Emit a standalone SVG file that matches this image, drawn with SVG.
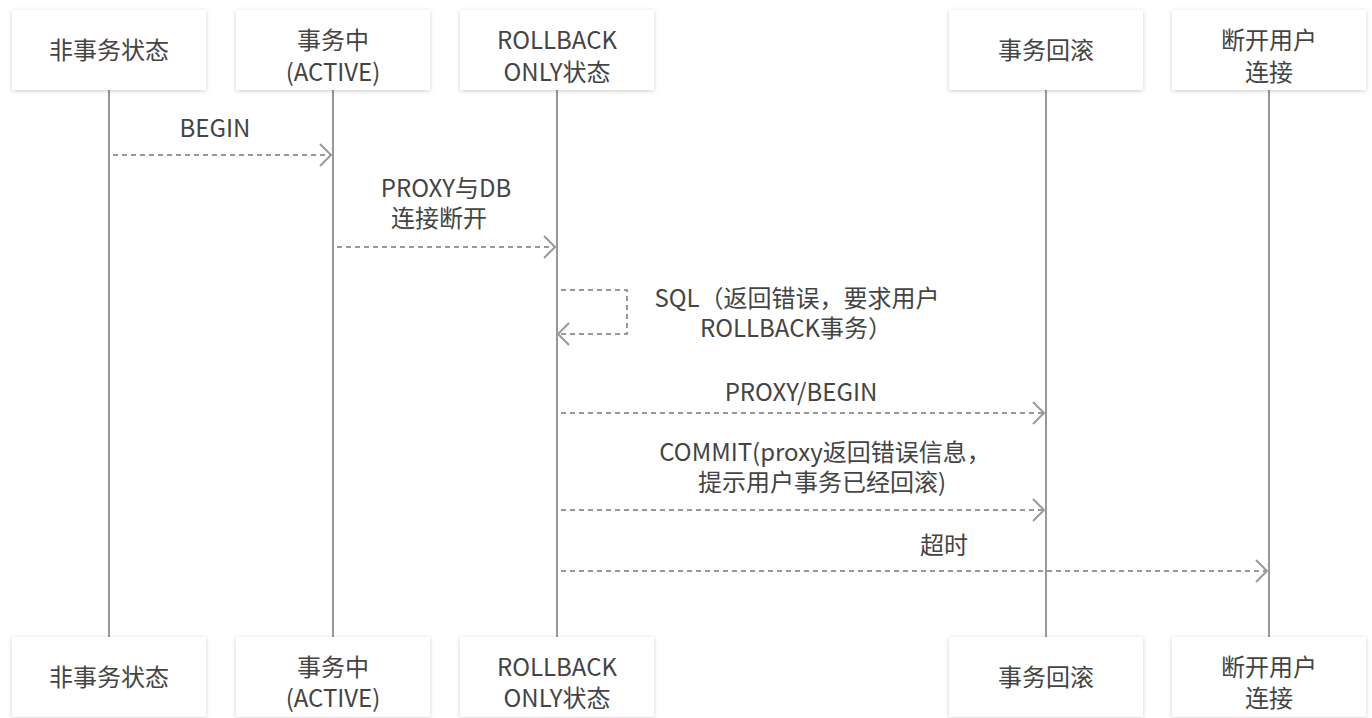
<svg xmlns="http://www.w3.org/2000/svg" width="1372" height="718" viewBox="0 0 1372 718">
<style>
.box{fill:#fff;filter:url(#sh)}
.t{font-family:"Noto Sans CJK SC","Noto Sans",sans-serif;font-size:24px;fill:#444;text-anchor:middle}
.life{stroke:#999;stroke-width:2;fill:none}
.msg{stroke:#999;stroke-width:2;fill:none;stroke-dasharray:5 4}
.head{stroke:#999;stroke-width:2;fill:none}
</style>
<defs>
<filter id="sh" x="-10%" y="-20%" width="120%" height="140%">
<feDropShadow dx="0" dy="1" stdDeviation="2" flood-color="#000" flood-opacity="0.2"/>
</filter>
</defs>
<rect width="1372" height="718" fill="#fff"/>
<g id="lifelines">
<line class="life" x1="109" y1="90" x2="109" y2="637"/>
<line class="life" x1="333" y1="90" x2="333" y2="637"/>
<line class="life" x1="557" y1="90" x2="557" y2="637"/>
<line class="life" x1="1046" y1="90" x2="1046" y2="637"/>
<line class="life" x1="1269" y1="90" x2="1269" y2="637"/>
</g>
<g id="n1"><rect class="box" x="12" y="10" width="194" height="80"/><text class="t" x="109" y="59">非事务状态</text></g>
<g id="n2"><rect class="box" x="236" y="10" width="194" height="80"/><text class="t"><tspan x="333" y="49">事务中</tspan><tspan x="333" y="81">(ACTIVE)</tspan></text></g>
<g id="n3"><rect class="box" x="460" y="10" width="194" height="80"/><text class="t"><tspan x="557" y="49">ROLLBACK</tspan><tspan x="557" y="81">ONLY状态</tspan></text></g>
<g id="n4"><rect class="box" x="949" y="10" width="194" height="80"/><text class="t" x="1046" y="59">事务回滚</text></g>
<g id="n5"><rect class="box" x="1172" y="10" width="194" height="80"/><text class="t"><tspan x="1269" y="49">断开用户</tspan><tspan x="1269" y="81">连接</tspan></text></g>
<g id="n1b"><rect class="box" x="12" y="637" width="194" height="80"/><text class="t" x="109" y="686">非事务状态</text></g>
<g id="n2b"><rect class="box" x="236" y="637" width="194" height="80"/><text class="t"><tspan x="333" y="676">事务中</tspan><tspan x="333" y="707">(ACTIVE)</tspan></text></g>
<g id="n3b"><rect class="box" x="460" y="637" width="194" height="80"/><text class="t"><tspan x="557" y="676">ROLLBACK</tspan><tspan x="557" y="707">ONLY状态</tspan></text></g>
<g id="n4b"><rect class="box" x="949" y="637" width="194" height="80"/><text class="t" x="1046" y="686">事务回滚</text></g>
<g id="n5b"><rect class="box" x="1172" y="637" width="194" height="80"/><text class="t"><tspan x="1269" y="676">断开用户</tspan><tspan x="1269" y="707">连接</tspan></text></g>
<g id="connectors">
<line class="msg" x1="113" y1="155" x2="330" y2="155"/>
<polyline class="head" points="320,144 331,155 320,166"/>
<text class="t" x="215" y="137">BEGIN</text>
<line class="msg" x1="337" y1="247" x2="554" y2="247"/>
<polyline class="head" points="544,236 555,247 544,258"/>
<text class="t"><tspan x="446" y="197">PROXY与DB</tspan><tspan x="439" y="227">连接断开</tspan></text>
<polyline class="msg" points="561,290 627,290 627,334 560,334"/>
<polyline class="head" points="569,323 558,334 569,345"/>
<text class="t"><tspan x="797" y="307">SQL（返回错误，要求用户</tspan><tspan x="796" y="337">ROLLBACK事务）</tspan></text>
<line class="msg" x1="561" y1="413" x2="1043" y2="413"/>
<polyline class="head" points="1033,402 1044,413 1033,424"/>
<text class="t" x="801" y="401">PROXY/BEGIN</text>
<line class="msg" x1="561" y1="510" x2="1043" y2="510"/>
<polyline class="head" points="1033,499 1044,510 1033,521"/>
<text class="t"><tspan x="825" y="461">COMMIT(proxy返回错误信息，</tspan><tspan x="822" y="491">提示用户事务已经回滚)</tspan></text>
<line class="msg" x1="561" y1="571" x2="1266" y2="571"/>
<polyline class="head" points="1256,560 1267,571 1256,582"/>
<text class="t" x="944" y="554">超时</text>
</g>
</svg>
